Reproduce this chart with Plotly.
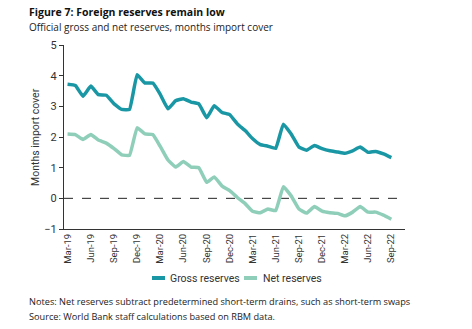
import plotly.graph_objects as go
import pandas as pd

months = pd.date_range("2019-03-01", "2022-09-01", freq="MS")

gross = [3.72, 3.68, 3.33, 3.66, 3.38, 3.36, 3.08, 2.90, 2.90, 4.03,
         3.76, 3.76, 3.40, 2.92, 3.18, 3.25, 3.14, 3.08, 2.63, 3.02,
         2.80, 2.73, 2.42, 2.20, 1.95, 1.75, 1.70, 1.63, 2.42, 2.10,
         1.67, 1.57, 1.72, 1.62, 1.55, 1.51, 1.47, 1.55, 1.67, 1.50,
         1.53, 1.45, 1.33]
net = [2.10, 2.08, 1.92, 2.08, 1.90, 1.80, 1.62, 1.42, 1.40, 2.30,
       2.10, 2.08, 1.70, 1.25, 1.02, 1.20, 1.02, 1.00, 0.52, 0.70,
       0.40, 0.25, 0.02, -0.18, -0.42, -0.47, -0.35, -0.40, 0.38, 0.08,
       -0.35, -0.48, -0.27, -0.42, -0.47, -0.49, -0.57, -0.45, -0.27, -0.45,
       -0.45, -0.55, -0.68]

tick_vals = pd.date_range("2019-03-01", "2022-09-01", freq="3MS")
tick_text = [d.strftime("%b-%y") for d in tick_vals]
series_names = ["Gross reserves", "Net reserves"]

GROSS_C = "#1a97a4"
NET_C = "#8fcfba"
NARROW = "Roboto, Liberation Sans, sans-serif"
BODY = "Open Sans, Noto Sans, sans-serif"

fig = go.Figure()
fig.add_trace(go.Scatter(x=months, y=gross, mode="lines", name=series_names[0],
                         line=dict(color=GROSS_C, width=3.5, shape="spline", smoothing=0.3)))
fig.add_trace(go.Scatter(x=months, y=net, mode="lines", name=series_names[1],
                         line=dict(color=NET_C, width=3.5, shape="spline", smoothing=0.3)))

fig.add_shape(type="line", xref="paper", x0=0, x1=1, yref="y", y0=0, y1=0,
              line=dict(color="#222222", width=1, dash="dash"), layer="below")

L, R, T, B = 64, 67, 45, 100
W, H = 472, 329
pw = W - L - R


def px(x):
    return (x - L) / pw


def py(y):
    return (H - B - y) / (H - T - B)


# legend drawn manually (short swatches like the original)
for (x0, col) in [(152, GROSS_C), (244, NET_C)]:
    fig.add_shape(type="line", xref="paper", yref="paper", x0=px(x0), x1=px(x0 + 13),
                  y0=py(278), y1=py(278), line=dict(color=col, width=4))

annots = [
    dict(text="<b>Figure 7: Foreign reserves remain low</b>", xref="paper", yref="paper",
         x=px(27), y=py(12), xanchor="left", yanchor="middle", showarrow=False,
         font=dict(family=BODY, size=10.5, color="#111111")),
    dict(text="Official gross and net reserves, months import cover", xref="paper", yref="paper",
         x=px(27), y=py(27), xanchor="left", yanchor="middle", showarrow=False,
         font=dict(family=BODY, size=10, color="#222222")),
    dict(text="Months import cover", xref="paper", yref="paper", textangle=-90,
         x=px(35), y=py(137), xanchor="center", yanchor="middle", showarrow=False,
         font=dict(family=NARROW, size=10.5, color="#333333")),
    dict(text="Notes: Net reserves subtract predetermined short-term drains, such as short-term swaps",
         xref="paper", yref="paper", x=px(27), y=py(301), xanchor="left", yanchor="middle",
         showarrow=False, font=dict(family=BODY, size=9.2, color="#222222")),
    dict(text="Source: World Bank staff calculations based on RBM data.",
         xref="paper", yref="paper", x=px(27), y=py(316), xanchor="left", yanchor="middle",
         showarrow=False, font=dict(family=BODY, size=9.2, color="#222222")),
]
for name, x0 in zip(series_names, [168, 261]):
    annots.append(dict(text=name, xref="paper", yref="paper", x=px(x0), y=py(278),
                       xanchor="left", yanchor="middle", showarrow=False,
                       font=dict(family=NARROW, size=10.5, color="#333333")))

fig.update_layout(
    width=W, height=H,
    margin=dict(l=L, r=R, t=T, b=B),
    paper_bgcolor="white", plot_bgcolor="white",
    showlegend=False,
    xaxis=dict(range=["2019-02-15", "2022-10-25"], tickvals=tick_vals, ticktext=tick_text,
               tickangle=-90, showgrid=False, zeroline=False, showline=True,
               linecolor="#333333", linewidth=1, ticks="",
               tickfont=dict(family=NARROW, size=9.5, color="#333333")),
    yaxis=dict(range=[-1, 5], tickvals=[-1, 0, 1, 2, 3, 4, 5], showgrid=False,
               zeroline=False, showline=True, linecolor="#333333", linewidth=1,
               ticks="outside", ticklen=4, tickcolor="#333333",
               tickfont=dict(family=NARROW, size=11, color="#333333")),
    annotations=annots,
)

fig.write_html("out.html")
